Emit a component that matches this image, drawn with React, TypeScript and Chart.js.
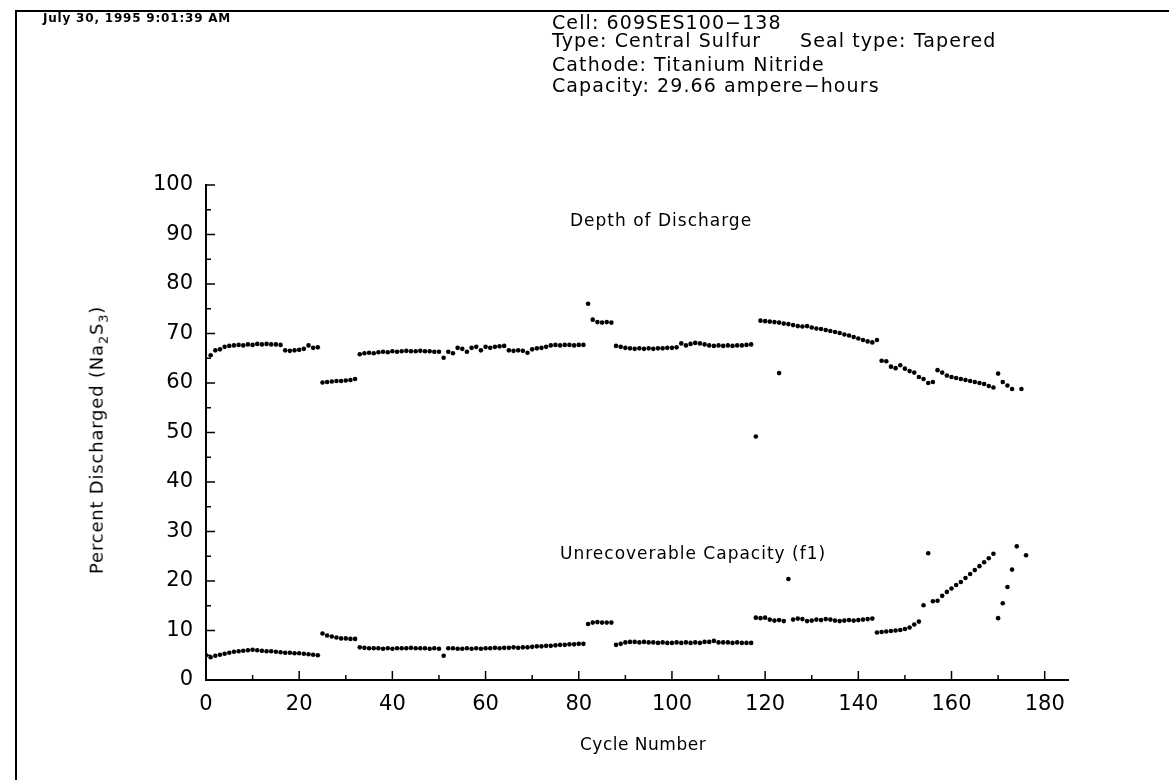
import React, { useEffect, useRef } from "react";
import { Chart, registerables } from "chart.js";
Chart.register(...registerables);

// Depth of Discharge (percent) per cycle
const dodCycles = [
  1, 2, 3, 4, 5, 6, 7, 8, 9, 10, 11, 12, 13, 14, 15, 16, 17, 18, 19, 20, 21, 22, 23, 24,
  25, 26, 27, 28, 29, 30, 31, 32,
  33, 34, 35, 36, 37, 38, 39, 40, 41, 42, 43, 44, 45, 46, 47, 48, 49, 50, 51, 52, 53, 54, 55,
  56, 57, 58, 59, 60, 61, 62, 63, 64, 65, 66, 67, 68, 69, 70, 71, 72, 73, 74, 75, 76, 77, 78,
  79, 80, 81, 82, 83, 84, 85, 86, 87, 88, 89, 90, 91, 92, 93, 94, 95, 96, 97, 98, 99, 100,
  101, 102, 103, 104, 105, 106, 107, 108, 109, 110, 111, 112, 113, 114, 115, 116, 117, 118,
  119, 120, 121, 122, 123, 123, 124, 125, 126, 127, 128, 129, 130, 131, 132, 133, 134, 135,
  136, 137, 138, 139, 140, 141, 142, 143, 144, 145, 146, 147, 148, 149, 150, 151, 152, 153,
  154, 155, 156, 157, 158, 159, 160, 161, 162, 163, 164, 165, 166, 167, 168, 169, 170, 171,
  172, 173, 175,
];
const dodValues = [
  65.6, 66.6, 66.8, 67.3, 67.5, 67.6, 67.7, 67.6, 67.8, 67.7, 67.9, 67.8, 67.9, 67.8, 67.8, 67.7,
  66.6, 66.5, 66.6, 66.7, 66.9, 67.6, 67.1, 67.2,
  60.1, 60.2, 60.3, 60.4, 60.4, 60.5, 60.6, 60.8,
  65.8, 66.0, 66.1, 66.0, 66.2, 66.3, 66.2, 66.4, 66.3, 66.4, 66.5, 66.4, 66.4, 66.5, 66.4, 66.4,
  66.3, 66.3, 65.1, 66.3, 66.0, 67.1, 66.9, 66.3, 67.1, 67.3, 66.6, 67.3, 67.1, 67.3, 67.4, 67.5,
  66.6, 66.5, 66.6, 66.5, 66.1, 66.8, 67.0, 67.1, 67.3, 67.6, 67.7, 67.6, 67.7, 67.7, 67.6, 67.7,
  67.7, 76.0, 72.8, 72.3, 72.2, 72.3, 72.2, 67.5, 67.3, 67.1, 67.0, 66.9, 67.0, 66.9, 67.0, 66.9,
  67.0, 67.0, 67.1, 67.1, 67.2, 68.0, 67.6, 67.9, 68.1, 68.0, 67.8, 67.6, 67.5, 67.6, 67.5, 67.6,
  67.5, 67.6, 67.6, 67.7, 67.8, 49.2,
  72.6, 72.5, 72.4, 72.3, 72.2, 62.0, 72.0, 71.9, 71.7, 71.5, 71.4, 71.5, 71.2, 71.0, 70.9, 70.7,
  70.5, 70.3, 70.1, 69.8, 69.6, 69.3, 69.0, 68.7, 68.4, 68.2, 68.7, 64.5, 64.4, 63.3, 63.0, 63.6,
  62.9, 62.4, 62.1, 61.2, 60.8, 60.0, 60.2, 62.6, 62.1, 61.5, 61.2, 61.0, 60.8, 60.6, 60.4, 60.2,
  60.0, 59.8, 59.4, 59.1, 61.9, 60.2, 59.5, 58.8, 58.8,
];

// Unrecoverable Capacity (f1) per cycle
const ucCycles = [
  0, 1, 2, 3, 4, 5, 6, 7, 8, 9, 10, 11, 12, 13, 14, 15, 16, 17, 18, 19, 20, 21, 22, 23, 24,
  25, 26, 27, 28, 29, 30, 31, 32,
  33, 34, 35, 36, 37, 38, 39, 40, 41, 42, 43, 44, 45, 46, 47, 48, 49, 50, 51, 52, 53, 54, 55,
  56, 57, 58, 59, 60, 61, 62, 63, 64, 65, 66, 67, 68, 69, 70, 71, 72, 73, 74, 75, 76, 77, 78,
  79, 80, 81, 82, 83, 84, 85, 86, 87, 88, 89, 90, 91, 92, 93, 94, 95, 96, 97, 98, 99, 100,
  101, 102, 103, 104, 105, 106, 107, 108, 109, 110, 111, 112, 113, 114, 115, 116, 117,
  118, 119, 120, 121, 122, 123, 124, 125, 126, 127, 128, 129, 130, 131, 132, 133, 134, 135,
  136, 137, 138, 139, 140, 141, 142, 143, 144, 145, 146, 147, 148, 149, 150, 151, 152, 153,
  154, 155, 156, 157, 158, 159, 160, 161, 162, 163, 164, 165, 166, 167, 168, 169, 170, 171,
  172, 173, 174, 176,
];
const ucValues = [
  5.0, 4.6, 4.9, 5.1, 5.3, 5.5, 5.7, 5.8, 5.9, 6.0, 6.1, 6.0, 5.9, 5.8, 5.8, 5.7, 5.6, 5.5, 5.5,
  5.4, 5.4, 5.3, 5.2, 5.1, 5.0,
  9.4, 9.0, 8.8, 8.6, 8.4, 8.4, 8.3, 8.3,
  6.6, 6.5, 6.4, 6.4, 6.4, 6.3, 6.4, 6.3, 6.4, 6.4, 6.4, 6.5, 6.4, 6.4, 6.4, 6.3, 6.4, 6.3, 4.9,
  6.4, 6.4, 6.3, 6.3, 6.4, 6.3, 6.4, 6.3, 6.4, 6.4, 6.5, 6.4, 6.5, 6.5, 6.6, 6.5, 6.6, 6.6, 6.7,
  6.8, 6.8, 6.9, 6.9, 7.0, 7.1, 7.1, 7.2, 7.2, 7.3, 7.3, 11.3, 11.6, 11.7, 11.6, 11.6, 11.6, 7.1,
  7.3, 7.6, 7.7, 7.7, 7.6, 7.7, 7.6, 7.6, 7.5, 7.6, 7.5, 7.5, 7.6, 7.5, 7.6, 7.5, 7.6, 7.5, 7.7,
  7.7, 7.9, 7.6, 7.6, 7.6, 7.5, 7.6, 7.5, 7.5, 7.5,
  12.6, 12.5, 12.6, 12.2, 12.0, 12.1, 11.9, 20.4, 12.2, 12.4, 12.3, 11.9, 12.0, 12.2, 12.1, 12.3,
  12.2, 12.0, 11.9, 12.0, 12.1, 12.0, 12.1, 12.2, 12.3, 12.4, 9.6, 9.7, 9.8, 9.9, 10.0, 10.1,
  10.3, 10.6, 11.2, 11.8, 15.1, 25.6, 15.9, 16.0, 17.0, 17.8, 18.5, 19.2, 19.8, 20.6, 21.4, 22.2,
  23.0, 23.8, 24.6, 25.5, 12.5, 15.5, 18.8, 22.3, 27.0, 25.2,
];

const xTickValues = [0, 20, 40, 60, 80, 100, 120, 140, 160, 180];
const yTickValues = [0, 10, 20, 30, 40, 50, 60, 70, 80, 90, 100];

const FONT = "'DejaVu Sans', sans-serif";

const tickMarks = {
  id: "tickMarks",
  afterDraw(chart: any) {
    const { ctx, chartArea } = chart;
    const xs = chart.scales.x;
    const ys = chart.scales.y;
    ctx.save();
    ctx.strokeStyle = "#000";
    ctx.lineWidth = 1.5;
    for (let v = 10; v <= 180; v += 10) {
      const px = xs.getPixelForValue(v);
      const len = v % 20 === 0 ? 9 : 5;
      ctx.beginPath();
      ctx.moveTo(px, chartArea.bottom);
      ctx.lineTo(px, chartArea.bottom - len);
      ctx.stroke();
    }
    for (let v = 5; v <= 100; v += 5) {
      const py = ys.getPixelForValue(v);
      const len = v % 10 === 0 ? 9 : 5;
      ctx.beginPath();
      ctx.moveTo(chartArea.left, py);
      ctx.lineTo(chartArea.left + len, py);
      ctx.stroke();
    }
    ctx.restore();
  },
};

export default function App() {
  const ref = useRef<HTMLCanvasElement | null>(null);
  useEffect(() => {
    if (!ref.current) return;
    const dod = dodCycles.map((c, i) => ({ x: c, y: dodValues[i] }));
    const uc = ucCycles.map((c, i) => ({ x: c, y: ucValues[i] }));
    const chart = new Chart(ref.current, {
      type: "scatter",
      data: {
        datasets: [
          { label: "Depth of Discharge", data: dod, pointRadius: 2.3, backgroundColor: "#000", borderWidth: 0 },
          { label: "Unrecoverable Capacity (f1)", data: uc, pointRadius: 2.3, backgroundColor: "#000", borderWidth: 0 },
        ],
      },
      options: {
        responsive: false,
        animation: false,
        layout: { padding: { top: 185, right: 101, left: 0, bottom: 0 } },
        plugins: { legend: { display: false }, tooltip: { enabled: false } },
        scales: {
          x: {
            type: "linear",
            min: 0,
            max: 185,
            afterFit: (s: any) => { s.height = 100; },
            afterBuildTicks: (s: any) => { s.ticks = xTickValues.map((v) => ({ value: v })); },
            grid: { display: false, drawTicks: false },
            border: { display: true, color: "#000", width: 2 },
            ticks: { color: "#000", font: { family: FONT, size: 21 }, padding: 12, maxRotation: 0, autoSkip: false },
          },
          y: {
            type: "linear",
            min: 0,
            max: 100,
            afterFit: (s: any) => { s.width = 206; },
            afterBuildTicks: (s: any) => { s.ticks = yTickValues.map((v) => ({ value: v })); },
            grid: { display: false, drawTicks: false },
            border: { display: true, color: "#000", width: 2 },
            ticks: { color: "#000", font: { family: FONT, size: 21 }, padding: 13, autoSkip: false },
          },
        },
      },
      plugins: [tickMarks],
    });
    return () => chart.destroy();
  }, []);

  const txt = (x: number, y: number, s: string, size = 19, extra: any = {}) => (
    <div style={{ position: "absolute", left: x, top: y, fontFamily: FONT, fontSize: size, color: "#000", whiteSpace: "nowrap", letterSpacing: 1.1, lineHeight: 1, ...extra }}>{s}</div>
  );

  return (
    <div style={{ position: "absolute", left: 0, top: 0, width: 1169, height: 780, background: "#fff", overflow: "hidden" }}>
      <canvas ref={ref} width={1169} height={780} style={{ position: "absolute", left: 0, top: 0 }} />
      <div style={{ position: "absolute", left: 15, top: 10, width: 1154, height: 2, background: "#000" }} />
      <div style={{ position: "absolute", left: 15, top: 10, width: 2, height: 770, background: "#000" }} />
      {txt(43, 12, "July 30, 1995 9:01:39 AM", 12, { fontWeight: "bold", letterSpacing: 0.8 })}
      {txt(552, 13, "Cell: 609SES100\u2212138")}
      {txt(552, 31, "Type: Central Sulfur")}
      {txt(800, 31, "Seal type: Tapered")}
      {txt(552, 55, "Cathode: Titanium Nitride")}
      {txt(552, 76, "Capacity: 29.66 ampere\u2212hours")}
      {txt(570, 212, "Depth of Discharge", 17, { letterSpacing: 1.0 })}
      {txt(560, 545, "Unrecoverable Capacity (f1)", 17, { letterSpacing: 1.0 })}
      {txt(580, 736, "Cycle Number", 17, { letterSpacing: 0.5 })}
      <div style={{ position: "absolute", left: 98, top: 440, transform: "translate(-50%, -50%) rotate(-90deg)", fontFamily: FONT, fontSize: 18, whiteSpace: "nowrap", letterSpacing: 0.8 }}>
        Percent Discharged (Na<sub style={{ fontSize: 13 }}>2</sub>S<sub style={{ fontSize: 13 }}>3</sub>)
      </div>
    </div>
  );
}
